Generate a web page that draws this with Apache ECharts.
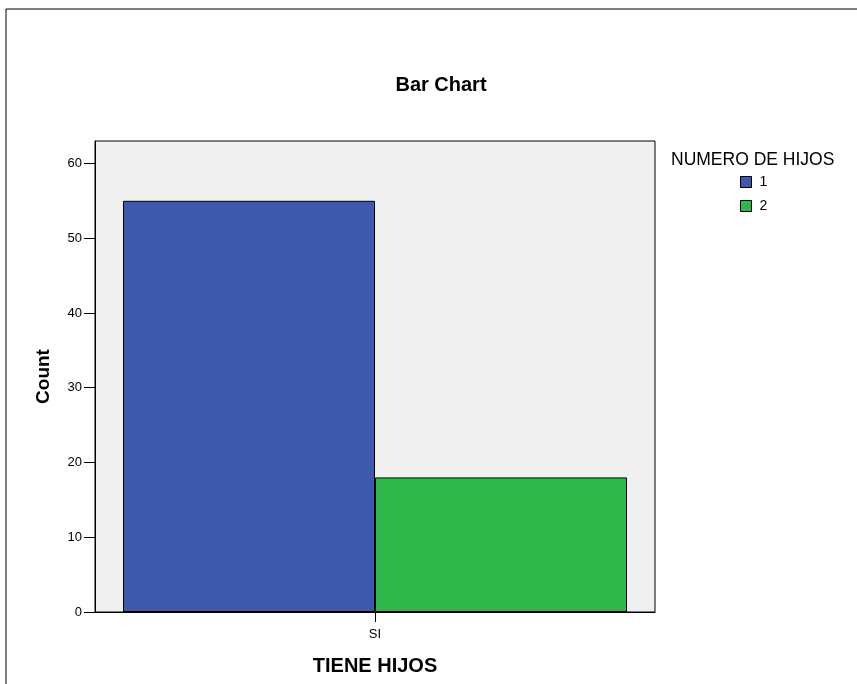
<!DOCTYPE html>
<html>
<head>
<meta charset="utf-8">
<script src="https://cdn.jsdelivr.net/npm/echarts@6/dist/echarts.min.js"></script>
<style>html,body{margin:0;padding:0;background:#fff;}#c{width:857px;height:684px;}</style>
</head>
<body>
<div id="c"></div>
<script>
const categories = ['SI'];
const seriesNames = ['1', '2'];
const values1 = [55];
const values2 = [18];
const yTicks = [0, 10, 20, 30, 40, 50, 60];

const chart = echarts.init(document.getElementById('c'));
const font = 'Liberation Sans, Arial, sans-serif';
chart.setOption({
  animation: false,
  backgroundColor: '#fff',
  textStyle: { fontFamily: font },
  title: {
    text: 'Bar Chart', left: 441, top: 75, textAlign: 'center', padding: 0,
    textStyle: { fontSize: 20, fontWeight: 'bold', color: '#000', fontFamily: font }
  },
  legend: {
    orient: 'vertical', left: 740, top: 175, padding: 0,
    itemWidth: 11, itemHeight: 11, itemGap: 10,
    icon: 'rect',
    itemStyle: { borderColor: '#000', borderWidth: 1 },
    textStyle: { fontSize: 14, lineHeight: 11, color: '#000', fontFamily: font, padding: [0, 0, 0, 3] },
    data: seriesNames
  },
  graphic: [
    { type: 'rect', shape: { x: 6, y: 9, width: 900, height: 800 }, style: { fill: 'none', stroke: '#000', lineWidth: 1 }, silent: true },
    { type: 'text', left: 671, top: 151, style: { text: 'NUMERO DE HIJOS', fontSize: 17.5, fill: '#000', fontFamily: font } }
  ],
  grid: {
    left: 95, top: 141, right: 202, bottom: 72,
    show: true, backgroundColor: '#F0F0F0', borderColor: '#000', borderWidth: 1
  },
  xAxis: {
    type: 'category', data: categories,
    name: 'TIENE HIJOS', nameLocation: 'middle', nameGap: 44,
    nameTextStyle: { fontSize: 20, fontWeight: 'bold', color: '#000', fontFamily: font },
    axisLine: { lineStyle: { color: '#000', width: 1 } },
    axisTick: { show: true, alignWithLabel: true, length: 10, lineStyle: { color: '#000' } },
    axisLabel: { fontSize: 13, color: '#000', margin: 16 }
  },
  yAxis: {
    type: 'value', min: 0, max: 63, interval: 10,
    name: 'Count', nameLocation: 'middle', nameGap: 42, nameRotate: 90,
    nameTextStyle: { fontSize: 19, fontWeight: 'bold', color: '#000', fontFamily: font },
    axisLine: { show: true, lineStyle: { color: '#000', width: 1 } },
    axisTick: { show: true, length: 11, lineStyle: { color: '#000' } },
    axisLabel: { fontSize: 13, color: '#000', margin: 13, showMaxLabel: false,
      formatter: v => yTicks.includes(v) ? String(v) : '' },
    splitLine: { show: false }
  },
  series: [
    { name: seriesNames[0], type: 'bar', data: values1, barGap: 0, barCategoryGap: '10%',
      itemStyle: { color: '#3E58AC', borderColor: '#000', borderWidth: 1 } },
    { name: seriesNames[1], type: 'bar', data: values2, barGap: 0, barCategoryGap: '10%',
      itemStyle: { color: '#2EB84B', borderColor: '#000', borderWidth: 1 } }
  ]
});
</script>
</body>
</html>
